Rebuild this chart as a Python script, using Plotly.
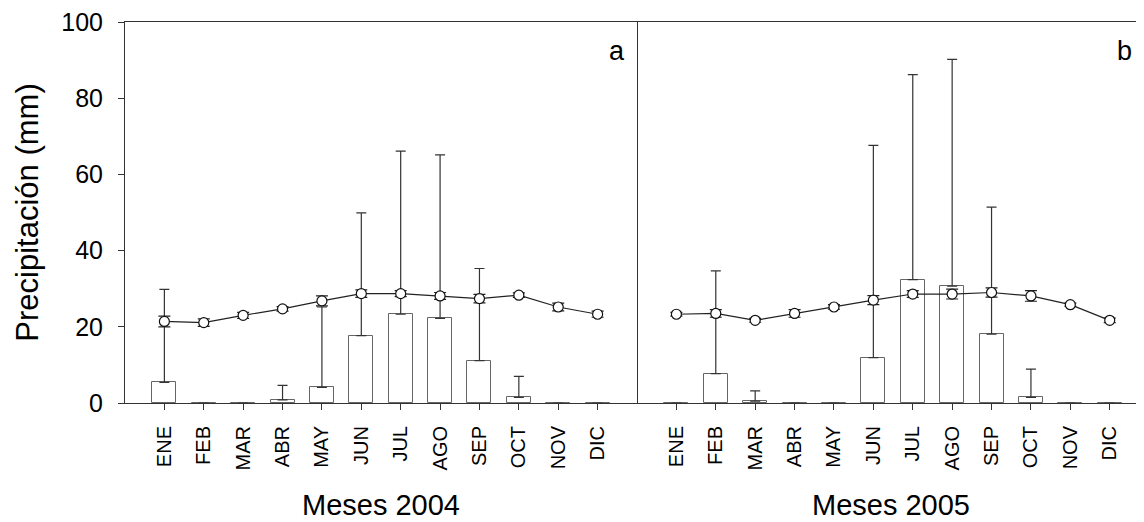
import plotly.graph_objects as go

months = ["ENE", "FEB", "MAR", "ABR", "MAY", "JUN", "JUL", "AGO", "SEP", "OCT", "NOV", "DIC"]

# 2004 (panel a)
rain_2004 = [5.4, 0, 0, 0.8, 4.1, 17.7, 23.3, 22.2, 11.1, 1.5, 0, 0]
rain_err_2004 = [24.4, None, None, 3.8, 21.1, 32.2, 42.8, 42.9, 24.2, 5.5, None, None]
line_2004 = [21.4, 21.1, 23.0, 24.7, 26.8, 28.7, 28.7, 28.1, 27.4, 28.3, 25.2, 23.3]
line_err_2004 = [1.4, 1.0, 0.8, 0.6, 1.3, 1.0, 0.8, 0.9, 1.1, 0.6, 1.0, 0.8]

# 2005 (panel b)
rain_2005 = [0, 7.7, 0.5, 0, 0, 11.9, 32.4, 30.7, 18.1, 1.5, 0, 0]
rain_err_2005 = [None, 27.0, 2.7, None, None, 55.7, 53.8, 59.5, 33.3, 7.4, None, None]
line_2005 = [23.3, 23.5, 21.7, 23.5, 25.2, 27.0, 28.6, 28.6, 29.0, 28.1, 25.8, 21.7]
line_err_2005 = [0.5, 1.0, 0.5, 1.0, 0.6, 1.2, 0.9, 1.3, 1.2, 1.4, 0.4, 0.6]

y_ticks = [0, 20, 40, 60, 80, 100]
x_titles = ["Meses 2004", "Meses 2005"]
panel_labels = ["a", "b"]

FONT = "Liberation Sans, Arial, sans-serif"
AX = "#333333"

fig = go.Figure()

def add_panel(xa, ya, rain, rain_err, line, line_err):
    fig.add_trace(go.Bar(
        x=months, y=rain, xaxis=xa, yaxis=ya, width=0.61,
        marker=dict(color="white", line=dict(color="#666666", width=1)),
        error_y=dict(type="data", symmetric=False, array=rain_err,
                     arrayminus=[0] * len(rain), color=AX, thickness=1.2, width=5),
        showlegend=False,
    ))
    fig.add_trace(go.Scatter(
        x=months, y=line, xaxis=xa, yaxis=ya, mode="lines+markers",
        line=dict(color="#222222", width=1.2),
        marker=dict(symbol="circle", size=10, color="white",
                    line=dict(color="#111111", width=1.2)),
        error_y=dict(type="data", array=line_err, color="#222222", thickness=1.2, width=6),
        showlegend=False,
    ))

add_panel("x", "y", rain_2004, rain_err_2004, line_2004, line_err_2004)
add_panel("x2", "y2", rain_2005, rain_err_2005, line_2005, line_err_2005)

split = 512 / 1019

xcommon = dict(
    type="category", showline=True, linecolor=AX, linewidth=1, mirror=True,
    ticks="outside", ticklen=6, tickcolor=AX, tickangle=-90,
    tickfont=dict(family=FONT, size=20, color="black"),
    ticklabelstandoff=8, showgrid=False, zeroline=False,
)

# The page adds an 8px body margin, so the figure is 8px smaller and shifted.
fig.update_layout(
    width=1136, height=514,
    margin=dict(l=117, r=0, t=10, b=119),
    paper_bgcolor="white", plot_bgcolor="white",
    bargap=0,
    xaxis=dict(domain=[0, split], range=[-1, 12], anchor="y", **xcommon),
    xaxis2=dict(domain=[split, 1], range=[-1, 11.87], anchor="y2", **xcommon),
    yaxis=dict(
        range=[0, 100], tickvals=y_ticks, showline=True, linecolor=AX, linewidth=1,
        mirror=True, ticks="outside", ticklen=6, tickcolor=AX,
        tickfont=dict(family=FONT, size=25, color="black"), ticklabelstandoff=10,
        ticklabeloverflow="allow",
        showgrid=False, zeroline=False, anchor="x",
        title=dict(text="Precipitación (mm)", font=dict(family=FONT, size=31, color="black"),
                   standoff=13),
    ),
    yaxis2=dict(
        range=[0, 100], showline=False, showticklabels=False, ticks="",
        showgrid=False, zeroline=False, anchor="x2", matches="y",
    ),
)

for xd, title, lab in [("x domain", x_titles[0], panel_labels[0]), ("x2 domain", x_titles[1], panel_labels[1])]:
    yd = "y domain" if xd == "x domain" else "y2 domain"
    fig.add_annotation(
        text=title, xref=xd, yref=yd, x=0.5, y=0, yshift=-102,
        xanchor="center", yanchor="middle", showarrow=False, borderpad=0,
        font=dict(family=FONT, size=29, color="black"),
    )
    fig.add_annotation(
        text=lab, xref=xd, yref=yd, x=1, y=1, xshift=-10, yshift=-29,
        xanchor="right", yanchor="middle", showarrow=False,
        font=dict(family=FONT, size=27, color="black"),
    )

fig.write_html("out.html")
